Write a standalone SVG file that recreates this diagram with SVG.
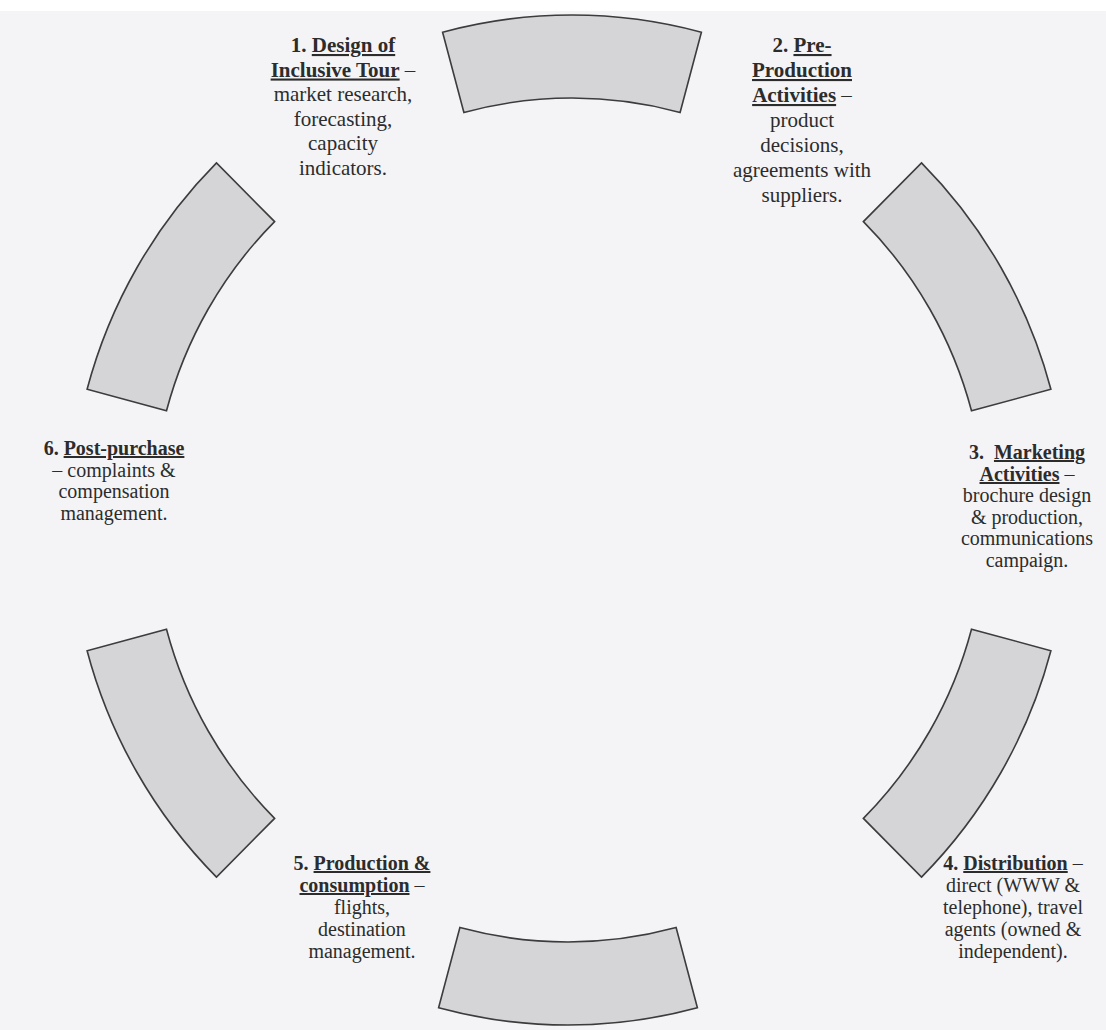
<svg xmlns="http://www.w3.org/2000/svg" width="1106" height="1030" viewBox="0 0 1106 1030">
<style>
.seg{fill:#d5d5d8;stroke:#3c3c3c;stroke-width:1.6;stroke-linejoin:miter}
.t{font-family:"Liberation Serif","Times New Roman",serif;fill:#2c2c2c;text-anchor:middle}
.b{font-weight:bold}
.u{font-weight:bold;text-decoration:underline}
.l1{font-size:21px}
.l2{font-size:20px}
</style>
<rect x="0" y="0" width="1106" height="1030" fill="#f4f4f6"/>
<rect x="0" y="0" width="1106" height="11" fill="#ffffff"/>
<g id="connectors"></g>
<g id="seg1"><path class="seg" d="M442.6 32.2 A499.95 505 0 0 1 701.4 32.2 L680.1 112.4 A417.78 422 0 0 0 463.9 112.4 Z"/></g>
<g id="seg2"><path class="seg" d="M921.5 162.9 A499.95 505 0 0 1 1050.9 389.3 L971.5 410.8 A417.78 422 0 0 0 863.4 221.6 Z"/></g>
<g id="seg3"><path class="seg" d="M1050.9 650.7 A499.95 505 0 0 1 921.5 877.1 L863.4 818.4 A417.78 422 0 0 0 971.5 629.2 Z"/></g>
<g id="seg4"><path class="seg" d="M697.4 1007.8 A499.95 505 0 0 1 438.6 1007.8 L459.9 927.6 A417.78 422 0 0 0 676.1 927.6 Z"/></g>
<g id="seg5"><path class="seg" d="M216.5 877.1 A499.95 505 0 0 1 87.1 650.7 L166.5 629.2 A417.78 422 0 0 0 274.6 818.4 Z"/></g>
<g id="seg6"><path class="seg" d="M87.1 389.3 A499.95 505 0 0 1 216.5 162.9 L274.6 221.6 A417.78 422 0 0 0 166.5 410.8 Z"/></g>
<g id="label1">
<text class="t l1" x="343" y="52"><tspan class="b">1. </tspan><tspan class="u">Design of</tspan></text>
<text class="t l1" x="343" y="76.5"><tspan class="u">Inclusive Tour</tspan> –</text>
<text class="t l1" x="343" y="101">market research,</text>
<text class="t l1" x="343" y="125.5">forecasting,</text>
<text class="t l1" x="343" y="150">capacity</text>
<text class="t l1" x="343" y="174.5">indicators.</text>
</g>
<g id="label2">
<text class="t l1" x="802" y="52"><tspan class="b">2. </tspan><tspan class="u">Pre-</tspan></text>
<text class="t l1" x="802" y="77"><tspan class="u">Production</tspan></text>
<text class="t l1" x="802" y="102"><tspan class="u">Activities</tspan> –</text>
<text class="t l1" x="802" y="127">product</text>
<text class="t l1" x="802" y="152">decisions,</text>
<text class="t l1" x="802" y="177">agreements with</text>
<text class="t l1" x="802" y="202">suppliers.</text>
</g>
<g id="label3">
<text class="t l2" x="1027" y="459" xml:space="preserve"><tspan class="b">3.  </tspan><tspan class="u">Marketing</tspan></text>
<text class="t l2" x="1027" y="481"><tspan class="u">Activities</tspan> –</text>
<text class="t l2" x="1027" y="502">brochure design</text>
<text class="t l2" x="1027" y="524">&amp; production,</text>
<text class="t l2" x="1027" y="545">communications</text>
<text class="t l2" x="1027" y="567">campaign.</text>
</g>
<g id="label4">
<text class="t l2" x="1013" y="870"><tspan class="b">4. </tspan><tspan class="u">Distribution</tspan> –</text>
<text class="t l2" x="1013" y="892">direct (WWW &amp;</text>
<text class="t l2" x="1013" y="914">telephone), travel</text>
<text class="t l2" x="1013" y="936">agents (owned &amp;</text>
<text class="t l2" x="1013" y="958">independent).</text>
</g>
<g id="label5">
<text class="t l2" x="362" y="870"><tspan class="b">5. </tspan><tspan class="u">Production &amp;</tspan></text>
<text class="t l2" x="362" y="892"><tspan class="u">consumption</tspan> –</text>
<text class="t l2" x="362" y="914">flights,</text>
<text class="t l2" x="362" y="936">destination</text>
<text class="t l2" x="362" y="958">management.</text>
</g>
<g id="label6">
<text class="t l2" x="114" y="455"><tspan class="b">6. </tspan><tspan class="u">Post-purchase</tspan></text>
<text class="t l2" x="114" y="477">– complaints &amp;</text>
<text class="t l2" x="114" y="498">compensation</text>
<text class="t l2" x="114" y="520">management.</text>
</g>
</svg>
